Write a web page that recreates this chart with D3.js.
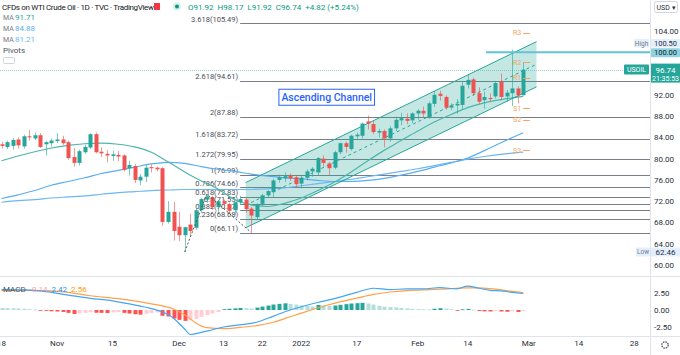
<!DOCTYPE html>
<html><head><meta charset="utf-8">
<script src="https://cdn.jsdelivr.net/npm/d3@7"></script>
<style>html,body{margin:0;padding:0;background:#fff;overflow:hidden}svg{display:block;font-family:Roboto,"Open Sans",sans-serif}</style>
</head><body><svg id="c" width="680" height="355"></svg>
<script>
// ---------------- DATA ----------------
const openP  = [82.7,82.2,82.4,83.6,82.3,84.2,83.8,84.4,82.7,82.9, 83.3,83.6,83.1,80.3,79.2,81.2,82.1,84.6,81.3,80.9, 80.5,80.7,80.6,78.2,78.6,75.9,76.6,78.4,78.3,78.2, 68.1,70.0,67.2,65.6,67.6,67.0,70.3,72.3,72.7,70.9, 72.0,71.4,70.3,71.8,72.3,70.6,69.0,71.5,73.1,73.7, 76.0,76.3,76.8,76.5,75.3,76.4,77.6,77.4,80.0,79.1, 78.3,81.2,82.9,81.8,84.2,84.3,87.0,86.5,84.9,85.2, 83.8,85.7,87.2,87.5,87.2,88.5,89.0,87.8,90.3,92.2, 91.6,89.6,90.0,90.1,93.9,94.9,92.3,91.0,91.4,91.7, 94.5,91.7,92.3,93.2,91.92];
const highP  = [83.2,83.4,83.9,84.0,84.5,85.4,84.9,84.8,83.3,83.8, 84.8,84.3,83.4,82.0,81.7,82.6,84.8,84.9,82.1,81.6, 81.5,81.4,80.8,79.6,79.0,77.1,78.8,78.9,78.5,78.4, 72.0,71.9,70.0,67.2,69.6,70.6,72.7,73.34,73.0,72.2, 72.3,71.7,71.9,73.0,72.6,70.9,71.6,73.4,74.1,76.2, 77.0,77.4,77.2,76.8,76.8,78.0,78.4,80.3,80.6,79.4, 81.5,83.0,83.2,84.5,84.9,86.8,88.1,87.2,85.6,85.5, 86.1,87.9,88.6,88.5,88.7,89.3,89.8,90.7,92.7,92.8, 91.9,90.4,91.2,94.5,95.8,95.2,93.4,92.6,92.3,94.6, 96.0,92.9,100.5,93.6,98.17];
const lowP   = [81.9,81.8,81.7,81.9,81.9,83.4,83.5,82.0,80.6,82.3, 82.9,82.6,79.8,78.5,78.7,80.9,81.8,81.0,80.3,79.3, 79.6,79.5,77.6,76.8,75.4,75.0,75.6,77.4,77.6,67.4, 67.8,64.6,64.5,62.46,65.3,66.6,69.8,71.7,70.4,70.0, 70.6,69.6,69.4,71.4,69.8,66.11,68.6,71.1,72.8,72.7, 75.5,75.6,75.8,74.5,74.4,75.9,76.6,76.8,78.5,76.9, 78.0,80.8,81.1,81.5,83.6,83.8,85.5,84.6,84.0,82.1, 83.2,85.2,86.3,86.5,86.7,87.3,87.8,87.5,89.7,90.9, 89.2,89.1,88.4,89.2,93.2,91.8,90.3,89.4,90.7,91.3, 91.0,90.7,89.9,90.4,91.92];
const closeP = [82.4,83.1,83.5,82.5,84.2,84.0,84.4,82.2,83.1,83.4, 83.6,82.9,80.1,79.2,81.4,82.2,84.6,81.2,81.0,80.6, 80.8,80.4,77.9,78.8,76.0,76.6,78.3,78.2,78.0,68.1, 70.0,66.4,65.6,67.1,66.4,70.3,72.4,72.9,70.9,72.0, 71.5,70.2,71.8,72.4,70.5,69.3,71.4,73.1,73.9,75.9, 76.5,76.7,76.3,75.2,76.4,77.6,78.1,80.1,79.2,78.2, 81.2,82.9,82.2,84.3,84.5,86.6,86.6,85.0,85.2,83.8, 85.7,87.3,87.6,87.1,88.5,89.0,88.5,90.4,92.0,91.8, 89.6,90.0,90.3,93.7,94.8,92.3,90.7,91.6,91.2,94.2, 91.6,92.4,93.2,91.92,96.74];

// moving averages (bar index, value)
const maIdx   = [0,3,6,9,12,15,18,21,24,27,30,33,36,39,42,45,48,51,54,57,60,63,66,69,72,75,78,81,84,87,90,94];
const ma20    = [79.6,80.5,81.3,82.0,82.5,82.8,82.9,82.7,82.2,81.2,79.4,77.5,75.8,74.3,72.3,71.3,71.0,71.6,72.6,74.0,75.6,77.5,79.6,81.6,83.4,85.2,86.9,88.3,89.6,90.5,91.1,91.71];
const ma50    = [72.5,73.2,74.0,75.0,75.7,76.4,77.2,77.8,78.4,79.0,79.3,79.1,78.5,78.0,77.6,77.1,76.7,76.4,76.2,75.9,75.7,75.7,75.9,76.3,76.9,77.6,78.4,79.2,80.1,81.5,83.0,84.88];
const ma100   = [71.8,72.1,72.3,72.6,72.8,73.0,73.3,73.6,73.8,74.0,74.1,74.2,74.2,74.2,74.2,74.2,74.3,74.5,74.9,75.3,75.7,76.1,76.6,77.1,77.6,78.1,78.7,79.3,79.9,80.4,80.8,81.21];

// MACD
const macdIdx  = [0,4,8,12,16,20,23,26,29,31,33,34,36,38,40,43,46,49,52,55,58,61,64,67,70,73,76,79,82,84,86,88,90,92,94];
const macdLine = [3.0,2.95,2.7,2.2,1.7,1.35,0.9,0.4,-0.3,-1.2,-2.8,-3.6,-3.3,-2.9,-2.5,-2.2,-1.8,-0.9,0.0,0.7,1.3,1.9,2.6,3.2,3.0,3.1,3.1,3.3,3.1,3.5,3.2,2.9,2.8,2.6,2.42];
const sigIdx   = [0,4,8,12,16,20,23,26,29,31,33,35,37,40,43,46,49,52,55,58,61,64,67,70,73,76,79,82,84,86,88,90,92,94];
const sigLine  = [2.85,2.9,2.85,2.6,2.1,1.75,1.45,1.05,0.6,0.15,-0.7,-1.9,-2.6,-2.75,-2.55,-2.3,-1.8,-1.0,-0.2,0.55,1.2,1.75,2.3,2.65,2.85,2.95,3.05,3.2,3.25,3.25,3.15,2.95,2.75,2.56];
const macdHist = [0.30,0.28,0.25,0.22,0.18,0.12,0.06,-0.05,-0.12,-0.18,
 -0.22,-0.28,-0.42,-0.58,-0.50,-0.42,-0.33,-0.40,-0.42,-0.44,
 -0.36,-0.30,-0.42,-0.52,-0.62,-0.68,-0.55,-0.45,-0.36,-0.85,
 -0.95,-1.25,-1.45,-1.60,-1.50,-1.30,-1.00,-0.75,-0.50,-0.30,
 0.12,0.18,0.24,0.30,0.26,0.22,0.35,0.50,0.65,0.80,
 0.90,0.98,0.90,0.80,0.68,0.58,0.52,0.75,0.68,0.60,
 0.66,0.76,0.86,0.95,1.00,1.05,0.95,0.80,0.62,0.50,
 0.44,0.38,0.30,0.24,0.18,0.14,0.10,0.08,0.18,0.26,
 0.22,0.10,-0.08,0.10,0.16,0.04,-0.15,-0.20,-0.22,-0.14,
 -0.22,-0.26,-0.20,-0.30,-0.14];

// Fibonacci (trend-based extension)
const fibRatios = ["3.618","2.618","2","1.618","1.272","1","0.786","0.618","0.5","0.382","0.236","0"];
const fibValues = [105.49,94.61,87.88,83.72,79.95,76.99,74.66,72.83,71.55,70.27,68.68,66.11];
const fibPtsIdx = [33,37,45];
const fibPtsVal = [62.46,73.34,66.11];
const fibStartIdx = 43;

// pivots
const pivotNames  = ["R3","R2","R1","S1","S2","S3"];
const pivotValues = [103.7,98.1,95.2,89.5,87.3,81.6];
const pivotIdx = [94,95.2];

// ascending channel
const chanIdx   = [44,96.4];
const chanLower = [67.0,93.5];
const chanUpper = [75.5,102.0];

// axis
const tickDates  = ["2021-10-18","2021-11-01","2021-11-15","2021-12-01","2021-12-13","2021-12-22","2022-01-03","2022-01-17","2022-02-01","2022-02-14","2022-03-01","2022-03-14","2022-03-28"];
const tickLabels = ["18","Nov","15","Dec","13","22","2022","17","Feb","14","Mar","14","28"];
const priceTicks = [104,92,88,84,80,76,72,68,64,60];
const macdTicks  = [2.5,0,-2.5];
const lastPrice = 96.74, highVal = 100.50, lowVal = 62.46, hLineVal = 100.00, hLineStartIdx = 87.3;

// --------------- LAYOUT ---------------
const skipDays = ["2021-12-24"];
const dates = [];
for (let d = new Date(Date.UTC(2021,9,18)); dates.length < 120; d.setUTCDate(d.getUTCDate()+1)) {
  const wd = d.getUTCDay(); if (wd===0||wd===6) continue;
  const s = d.toISOString().slice(0,10); if (skipDays.includes(s)) continue; dates.push(s);
}
const PR = 650, MAIN_B = 276, MACD_B = 336;
const x  = d3.scaleLinear().domain([0,117]).range([1.5, 1.5+117*5.55]);
const y  = d3.scaleLinear().domain([60,104]).range([265,31]);
const ym = d3.scaleLinear().domain([-2.5,2.5]).range([327,293]);
const UP="#26a69a", DN="#ef5350";
const svg = d3.select("#c");
const defs = svg.append("defs");
defs.append("clipPath").attr("id","cm").append("rect").attr("x",0).attr("y",0).attr("width",PR).attr("height",MAIN_B);
defs.append("clipPath").attr("id","cd").append("rect").attr("x",0).attr("y",MAIN_B+1).attr("width",PR).attr("height",MACD_B-MAIN_B-1);
defs.append("clipPath").attr("id","ct").append("rect").attr("x",0).attr("y",MACD_B).attr("width",PR).attr("height",355-MACD_B);

// separators
svg.append("line").attr("x1",PR+0.5).attr("x2",PR+0.5).attr("y1",0).attr("y2",355).attr("stroke","#e0e3eb");
svg.append("line").attr("x1",0).attr("x2",680).attr("y1",MAIN_B+0.5).attr("y2",MAIN_B+0.5).attr("stroke","#e0e3eb");
svg.append("line").attr("x1",0).attr("x2",680).attr("y1",MACD_B+0.5).attr("y2",MACD_B+0.5).attr("stroke","#e0e3eb");

const main = svg.append("g").attr("clip-path","url(#cm)");

// fib lines + labels
fibValues.forEach((v,k)=>{
  main.append("line").attr("x1",x(fibStartIdx)).attr("x2",PR).attr("y1",Math.round(y(v))+0.5).attr("y2",Math.round(y(v))+0.5)
    .attr("stroke","#7b7e88").attr("stroke-width",1);
  main.append("text").attr("x",x(fibStartIdx)-2).attr("y",y(v)-1.5).attr("text-anchor","end")
    .attr("font-size",7.5).attr("fill","#4a4d57").text(fibRatios[k]+"("+v.toFixed(2)+")");
});

// channel fill
const chPoly = [[chanIdx[0],chanLower[0]],[chanIdx[1],chanLower[1]],[chanIdx[1],chanUpper[1]],[chanIdx[0],chanUpper[0]]];
main.append("path").attr("d",d3.line().x(d=>x(d[0])).y(d=>y(d[1]))(chPoly)+"Z").attr("fill","rgba(38,166,154,0.27)");

// moving averages
const maLine = (vals)=>d3.line().curve(d3.curveMonotoneX).x((d,i)=>x(maIdx[i])).y(d=>y(d))(vals);
main.append("path").attr("d",maLine(ma100)).attr("fill","none").attr("stroke","#6fb7f2").attr("stroke-width",1.2);
main.append("path").attr("d",maLine(ma50)).attr("fill","none").attr("stroke","#5aaef0").attr("stroke-width",1.2);
main.append("path").attr("d",maLine(ma20)).attr("fill","none").attr("stroke","#4db6ac").attr("stroke-width",1.2);

// channel lines
[chanLower,chanUpper].forEach(arr=>{
  main.append("line").attr("x1",x(chanIdx[0])).attr("x2",x(chanIdx[1])).attr("y1",y(arr[0])).attr("y2",y(arr[1]))
   .attr("stroke","#26a69a").attr("stroke-width",1);
});
main.append("line").attr("x1",x(chanIdx[0])).attr("x2",x(chanIdx[1]))
  .attr("y1",y((chanLower[0]+chanUpper[0])/2)).attr("y2",y((chanLower[1]+chanUpper[1])/2))
  .attr("stroke","#26a69a").attr("stroke-width",1).attr("stroke-dasharray","3,3");

// current price line
main.append("line").attr("x1",0).attr("x2",PR).attr("y1",Math.round(y(lastPrice))+0.5).attr("y2",Math.round(y(lastPrice))+0.5)
  .attr("stroke","#26a69a").attr("stroke-opacity",0.45).attr("stroke-dasharray","1,1");

// candles
const bars = closeP.map((c,i)=>({i,o:openP[i],h:highP[i],l:lowP[i],c}));
const cg = main.append("g");
cg.selectAll("line.w").data(bars).join("line").attr("class","w")
  .attr("x1",d=>Math.round(x(d.i))+0.5).attr("x2",d=>Math.round(x(d.i))+0.5)
  .attr("y1",d=>y(d.h)).attr("y2",d=>y(d.l))
  .attr("stroke",d=>d.c>=d.o?UP:DN).attr("stroke-opacity",0.6);
cg.selectAll("rect.b").data(bars).join("rect").attr("class","b")
  .attr("x",d=>Math.round(x(d.i))-1.5).attr("width",4)
  .attr("y",d=>y(Math.max(d.o,d.c))).attr("height",d=>Math.max(1,Math.abs(y(d.o)-y(d.c))))
  .attr("fill",d=>d.c>=d.o?UP:DN);

// fib dotted trend path
main.append("path").attr("d",d3.line().x((d,i)=>x(fibPtsIdx[i])).y(d=>y(d))(fibPtsVal))
  .attr("fill","none").attr("stroke","#555").attr("stroke-width",1).attr("stroke-dasharray","2,2");

// 100 horizontal line
main.append("line").attr("x1",x(hLineStartIdx)).attr("x2",PR).attr("y1",y(hLineVal)).attr("y2",y(hLineVal))
  .attr("stroke","#62c3d6").attr("stroke-width",2);

// pivots
pivotValues.forEach((v,k)=>{
  main.append("line").attr("x1",x(pivotIdx[0])).attr("x2",x(pivotIdx[1])).attr("y1",Math.round(y(v))+0.5).attr("y2",Math.round(y(v))+0.5)
    .attr("stroke","#f7a35c").attr("stroke-width",1);
  main.append("text").attr("x",x(pivotIdx[0])-2).attr("y",y(v)+2.5).attr("text-anchor","end")
    .attr("font-size",7).attr("fill","#f4a460").text(pivotNames[k]);
});

// Ascending channel annotation
const an = main.append("g");
const at = an.append("text").attr("x",x(58.6)).attr("y",y(91.6)+3.8).attr("text-anchor","middle")
  .attr("font-size",10.5).attr("font-weight",500).attr("fill","#2962ff").text("Ascending Channel");
const bb = at.node().getBBox();
an.insert("rect","text").attr("x",bb.x-2.5).attr("y",bb.y-1.5).attr("width",bb.width+5).attr("height",bb.height+3)
  .attr("fill","#fff").attr("fill-opacity",0.85).attr("stroke","#2962ff").attr("stroke-width",1);

// ---------------- MACD pane ----------------
const mp = svg.append("g").attr("clip-path","url(#cd)");
mp.selectAll("rect").data(macdHist).join("rect")
  .attr("x",(d,i)=>Math.round(x(i))-1.5).attr("width",4)
  .attr("y",d=>Math.min(ym(0),ym(d))).attr("height",d=>Math.max(0.8,Math.abs(ym(d)-ym(0))))
  .attr("fill",(d,i)=>{const p=i>0?macdHist[i-1]:d; return d>=0?(d>p?"#26a69a":"#b2dfdb"):(d<p?"#ff5252":"#ffcdd2");});
mp.append("path").attr("d",d3.line().curve(d3.curveMonotoneX).x((d,i)=>x(sigIdx[i])).y(d=>ym(d))(sigLine))
  .attr("fill","none").attr("stroke","#ffa04a").attr("stroke-width",1.2);
mp.append("path").attr("d",d3.line().curve(d3.curveMonotoneX).x((d,i)=>x(macdIdx[i])).y(d=>ym(d))(macdLine))
  .attr("fill","none").attr("stroke","#42a5f5").attr("stroke-width",1.2);

// ---------------- Axes ----------------
const ax = svg.append("g").attr("font-size",8).attr("fill","#2a2e39");
priceTicks.forEach(v=>ax.append("text").attr("x",654).attr("y",y(v)+3).text(v.toFixed(2)));
macdTicks.forEach(v=>ax.append("text").attr("x",654).attr("y",ym(v)+3).text(v.toFixed(2)));
const tIdx = tickDates.map(t=>dates.indexOf(t));
const tg = ax.append("g").attr("clip-path","url(#ct)");
tIdx.forEach((ix,k)=>tg.append("text").attr("x",x(ix)).attr("y",346).attr("text-anchor","middle").text(tickLabels[k]));

// High / Low / 100 / last price labels
function tag(xl,yc,w,h,bg,fg,txt,fs){ const g=svg.append("g");
  g.append("rect").attr("x",xl).attr("y",yc-h/2).attr("width",w).attr("height",h).attr("fill",bg).attr("rx",1);
  g.append("text").attr("x",xl+w/2).attr("y",yc+fs*0.35).attr("text-anchor","middle").attr("font-size",fs).attr("fill",fg).text(txt); return g;}
tag(634,43.3,15,8.5,"#e3effd","#787b86","High",6.5);
tag(651,43.3,29,8.5,"#e3effd","#2a2e39",highVal.toFixed(2),7.5);
tag(651,y(hLineVal)+0.5,29,9,"#8fd3e0","#131722",hLineVal.toFixed(2),7.5);
tag(624,y(lastPrice),25,10,"#26a69a","#fff","USOIL",7);
const lp=svg.append("g");
lp.append("rect").attr("x",651).attr("y",y(lastPrice)-6).attr("width",29).attr("height",19).attr("fill","#26a69a");
lp.append("text").attr("x",665.5).attr("y",y(lastPrice)+3).attr("text-anchor","middle").attr("font-size",8).attr("fill","#fff").text(lastPrice.toFixed(2));
lp.append("text").attr("x",665.5).attr("y",y(lastPrice)+11).attr("text-anchor","middle").attr("font-size",7).attr("fill","#fff").text("21:35:53");
tag(636,y(lowVal),14,9,"#e3effd","#787b86","Low",6.5);
tag(651,y(lowVal),29,9,"#e3effd","#2a2e39",lowVal.toFixed(2),8);
// USD button
svg.append("rect").attr("x",654.5).attr("y",1.5).attr("width",23).attr("height",11).attr("fill","#fff").attr("stroke","#d1d4dc").attr("rx",2);
svg.append("text").attr("x",666).attr("y",10).attr("text-anchor","middle").attr("font-size",7).attr("fill","#2a2e39").text("USD ▾");
// gear
svg.append("circle").attr("cx",665).attr("cy",345).attr("r",3.2).attr("fill","none").attr("stroke","#50535e").attr("stroke-width",1.3).attr("stroke-dasharray","1.6,0.9");

// ---------------- Legends ----------------
const lg = svg.append("g").attr("font-size",8);
lg.append("text").attr("x",2).attr("y",10).attr("fill","#131722").attr("textLength",152).text("CFDs on WTI Crude Oil · 1D · TVC · TradingView");
lg.append("rect").attr("x",154).attr("y",3).attr("width",6).attr("height",7).attr("fill","#f23645");
lg.append("circle").attr("cx",177).attr("cy",6.5).attr("r",4).attr("fill","#d7f0ec");
lg.append("circle").attr("cx",177).attr("cy",6.5).attr("r",2).attr("fill","#089981");
const ohlc = lg.append("text").attr("x",188).attr("y",10).attr("fill","#089981");
[["O","91.92"],["H","98.17"],["L","91.92"],["C","96.74"]].forEach(([a,b],k)=>{
  ohlc.append("tspan").attr("dx",k?4:0).attr("fill","#089981").text(a+b);
});
ohlc.append("tspan").attr("dx",4).text("+4.82 (+5.24%)");
const maCols = ["#26a69a","#5aaef0","#6fb7f2"], maVals=[ma20[ma20.length-1],ma50[ma50.length-1],ma100[ma100.length-1]];
maVals.forEach((v,k)=>{
  lg.append("text").attr("x",3).attr("y",20+k*11).attr("fill","#787b86").attr("font-size",7).text("MA");
  lg.append("text").attr("x",15).attr("y",20+k*11).attr("fill",maCols[k]).attr("font-size",8).text(v.toFixed(2));
});
lg.append("text").attr("x",3).attr("y",53).attr("fill","#50535e").attr("font-size",8).text("Pivots");
lg.append("rect").attr("x",3.5).attr("y",57.5).attr("width",11).attr("height",6).attr("fill","#fff").attr("stroke","#d1d4dc").attr("rx",1);
const ml = lg.append("text").attr("x",3).attr("y",292).attr("font-size",8);
ml.append("tspan").attr("fill","#50535e").text("MACD");
ml.append("tspan").attr("dx",4).attr("fill","#f7a1a6").text(macdHist[macdHist.length-1].toFixed(2));
ml.append("tspan").attr("dx",4).attr("fill","#2196f3").text(macdLine[macdLine.length-1].toFixed(2));
ml.append("tspan").attr("dx",4).attr("fill","#ff9800").text(sigLine[sigLine.length-1].toFixed(2));
</script></body></html>
